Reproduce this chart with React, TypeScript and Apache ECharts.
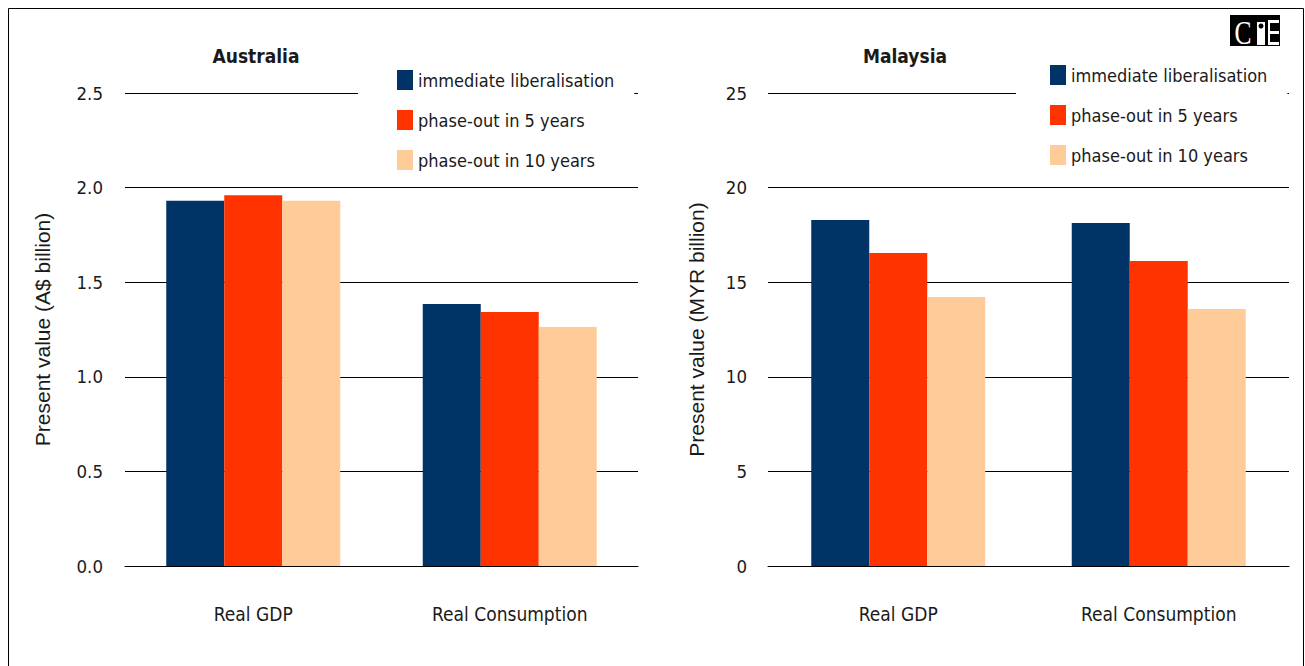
import React, { useEffect, useRef } from "react";
import * as echarts from "echarts";

const categories = ["Real GDP", "Real Consumption"];
const seriesNames = ["immediate liberalisation", "phase-out in 5 years", "phase-out in 10 years"];
const colors = ["#003366", "#FF3300", "#FFCC99"];

const ausImmediate = [1.93, 1.385];
const ausFive = [1.96, 1.342];
const ausTen = [1.93, 1.263];

const myImmediate = [18.29, 18.13];
const myFive = [16.54, 16.12];
const myTen = [14.22, 13.58];

const ausTicks = { min: 0, max: 2.5, interval: 0.5 };
const myTicks = { min: 0, max: 25, interval: 5 };

const NARROW = "'Liberation Sans Narrow', 'Arial Narrow', 'DejaVu Sans Condensed', sans-serif";
const REG = "'Liberation Sans', Arial, sans-serif";
const TXT = "#1a1a1a";

export default function App() {
  const ref = useRef<HTMLDivElement>(null);
  useEffect(() => {
    if (!ref.current) return;
    const chart = echarts.init(ref.current, undefined, { renderer: "svg" });
    const xAxisCommon = {
      type: "category" as const,
      data: categories,
      axisLine: { show: true, lineStyle: { color: "#000", width: 1 } },
      axisTick: { show: false },
      axisLabel: { margin: 38, fontFamily: NARROW, fontSize: 19, color: TXT },
    };
    const yAxisCommon = {
      type: "value" as const,
      nameLocation: "middle" as const,
      nameRotate: 90,
      axisLine: { show: false },
      axisTick: { show: false },
      splitLine: { show: true, lineStyle: { color: "#000", width: 1 } },
      nameTextStyle: { fontFamily: REG, fontSize: 21, color: TXT },
    };
    const ausData = [ausImmediate, ausFive, ausTen];
    const myData = [myImmediate, myFive, myTen];
    const series: any[] = [];
    seriesNames.forEach((n, i) => {
      series.push({
        name: n,
        type: "bar",
        xAxisIndex: 0,
        yAxisIndex: 0,
        data: ausData[i],
        barWidth: 58,
        barGap: "0%",
        itemStyle: { color: colors[i] },
      });
    });
    seriesNames.forEach((n, i) => {
      series.push({
        name: n,
        type: "bar",
        xAxisIndex: 1,
        yAxisIndex: 1,
        data: myData[i],
        barWidth: 58,
        barGap: "0%",
        itemStyle: { color: colors[i] },
      });
    });
    const legendCommon = {
      orient: "vertical" as const,
      data: seriesNames,
      icon: "rect",
      itemWidth: 16,
      itemHeight: 20,
      itemGap: 20,
      backgroundColor: "#fff",
      selectedMode: false,
      textStyle: { fontFamily: NARROW, fontSize: 18, color: TXT, padding: [0, 0, 0, 0] },
    };
    chart.setOption({
      animation: false,
      grid: [
        { left: 125, right: 1305 - 638, top: 93, bottom: 100 },
        { left: 768, right: 1305 - 1289, top: 93, bottom: 100 },
      ],
      xAxis: [
        { ...xAxisCommon, gridIndex: 0 },
        { ...xAxisCommon, gridIndex: 1 },
      ],
      yAxis: [
        {
          ...yAxisCommon,
          gridIndex: 0,
          ...ausTicks,
          name: "Present value (A$ billion)",
          nameGap: 72,
          axisLabel: {
            margin: 22,
            fontFamily: NARROW,
            fontSize: 18.5,
            color: TXT,
            formatter: (v: number) => v.toFixed(1),
          },
        },
        {
          ...yAxisCommon,
          gridIndex: 1,
          ...myTicks,
          name: "Present value (MYR billion)",
          nameGap: 61,
          axisLabel: { margin: 21, fontFamily: NARROW, fontSize: 18.5, color: TXT },
        },
      ],
      legend: [
        { ...legendCommon, left: 358, top: 68, padding: [2, 20, 2, 39] },
        { ...legendCommon, left: 1016, top: 63, padding: [2, 20, 2, 34] },
      ],
      series,
      graphic: [
        {
          type: "rect",
          shape: { x: 8.5, y: 8.5, width: 1295, height: 700 },
          style: { fill: "none", stroke: "#000", lineWidth: 1 },
          silent: true,
        },
        {
          type: "text",
          x: 256,
          y: 56,
          style: {
            text: "Australia",
            fontFamily: NARROW,
            fontWeight: "bold",
            fontSize: 19,
            fill: TXT,
            align: "center",
            verticalAlign: "middle",
          },
        },
        {
          type: "text",
          x: 905,
          y: 56,
          style: {
            text: "Malaysia",
            fontFamily: NARROW,
            fontWeight: "bold",
            fontSize: 19,
            fill: TXT,
            align: "center",
            verticalAlign: "middle",
          },
        },
        {
          type: "group",
          children: [
            { type: "rect", shape: { x: 1230, y: 15, width: 50, height: 31 }, style: { fill: "#000" } },
            {
              type: "text",
              x: 1243,
              y: 33,
              scaleX: 0.75,
              style: {
                text: "C",
                fontFamily: "'Liberation Serif', serif",
                fontSize: 34,
                fill: "#fff",
                align: "center",
                verticalAlign: "middle",
              },
            },
            { type: "rect", shape: { x: 1257, y: 22, width: 8, height: 23 }, style: { fill: "#fff" } },
            { type: "circle", shape: { cx: 1261, cy: 26, r: 2.5 }, style: { fill: "#000" } },
            { type: "rect", shape: { x: 1269, y: 20, width: 10, height: 3 }, style: { fill: "#fff" } },
            { type: "rect", shape: { x: 1269, y: 31, width: 10, height: 3 }, style: { fill: "#fff" } },
            { type: "rect", shape: { x: 1269, y: 42, width: 10, height: 3 }, style: { fill: "#fff" } },
            { type: "rect", shape: { x: 1268, y: 20, width: 2, height: 25 }, style: { fill: "#fff" } },
          ],
        },
      ],
    });
    return () => chart.dispose();
  }, []);
  return (
    <div
      ref={ref}
      style={{ position: "fixed", left: 0, top: 0, width: 1305, height: 666, background: "#fff" }}
    />
  );
}
